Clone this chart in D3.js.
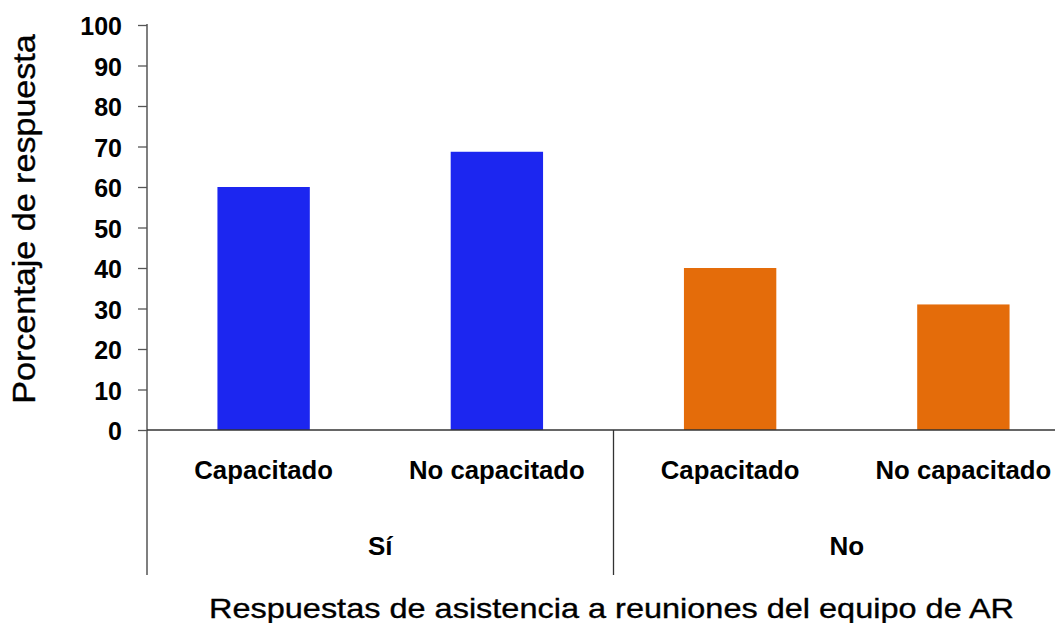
<!DOCTYPE html>
<html>
<head>
<meta charset="utf-8">
<script src="https://cdn.jsdelivr.net/npm/d3@7"></script>
<style>
  html, body { margin: 0; padding: 0; background: #fff; }
  svg { display: block; font-family: "Liberation Sans", Arial, sans-serif; }
</style>
</head>
<body>
<svg id="chart" width="1055" height="623"></svg>
<script>
// Survey responses: attendance at AR team meetings, by training status
const groups = ["Sí", "No"];
const subCategories = ["Capacitado", "No capacitado"];
const percentSi = [60, 68.7];
const percentNo = [40, 31];
const yTicks = [0, 10, 20, 30, 40, 50, 60, 70, 80, 90, 100];
const groupColors = ["#1C26F0", "#E46C0A"];
const yTitle = "Porcentaje de respuesta";
const xTitle = "Respuestas de asistencia a reuniones del equipo de AR";

const rows = [];
groups.forEach((g, gi) => {
  const vals = gi === 0 ? percentSi : percentNo;
  subCategories.forEach((c, ci) => {
    rows.push({ key: g + "|" + c, group: g, gi, cat: c, value: vals[ci] });
  });
});

const svg = d3.select("#chart");
const plotLeft = 147, plotRight = 1080, plotTop = 25, plotBase = 430, labelBottom = 575;

const x = d3.scaleBand().domain(rows.map(d => d.key)).range([plotLeft, plotRight]).padding(0);
const y = d3.scaleLinear().domain([0, 100]).range([plotBase, plotTop]);
const barW = x.bandwidth() * 0.396;

// Text helper with optional horizontal stretch
function label(sel, px, py, str, o) {
  return sel.append("text")
    .attr("transform", `translate(${px},${py}) ${o.rotate ? "rotate(-90) " : ""}scale(${o.sx || 1},1)`)
    .attr("text-anchor", o.anchor || "middle")
    .attr("font-size", o.size)
    .attr("font-weight", o.bold ? "bold" : "normal")
    .attr("fill", "#000")
    .attr("stroke", o.bold ? null : "#000")
    .attr("stroke-width", o.bold ? null : 0.35)
    .text(str);
}

// Bars
svg.append("g").selectAll("rect").data(rows).join("rect")
  .attr("x", d => x(d.key) + x.bandwidth() / 2 - barW / 2)
  .attr("y", d => y(d.value))
  .attr("width", barW)
  .attr("height", d => y(0) - y(d.value))
  .attr("fill", d => groupColors[d.gi]);

// Y axis
const yAxis = d3.axisLeft(y).tickValues(yTicks).tickSize(9).tickFormat("");
const ya = svg.append("g").attr("transform", `translate(${plotLeft},0)`).call(yAxis);
ya.select(".domain").remove();
ya.selectAll(".tick line").attr("stroke", "#555").attr("stroke-width", 1.3);
svg.append("line").attr("x1", plotLeft).attr("x2", plotLeft).attr("y1", plotTop - 1).attr("y2", labelBottom)
  .attr("stroke", "#555").attr("stroke-width", 1.5);

const tickG = svg.append("g");
yTicks.forEach(t => {
  label(tickG, 122, y(t) + 10, String(t), { size: 25, bold: true, anchor: "end", sx: 1.0 });
});

// Baseline and group separator
svg.append("line").attr("x1", plotLeft).attr("x2", 1055).attr("y1", plotBase).attr("y2", plotBase)
  .attr("stroke", "#333").attr("stroke-width", 1.3);
const sepX = x(rows[2].key);
svg.append("line").attr("x1", sepX).attr("x2", sepX).attr("y1", plotBase).attr("y2", labelBottom)
  .attr("stroke", "#333").attr("stroke-width", 1.3);

// Category labels
const catG = svg.append("g");
rows.forEach(d => {
  label(catG, x(d.key) + x.bandwidth() / 2, 479, d.cat, { size: 25, bold: true, sx: 1.03 });
});

// Group labels
groups.forEach((g, gi) => {
  const ks = rows.filter(r => r.gi === gi).map(r => r.key);
  const cx = (x(ks[0]) + x(ks[ks.length - 1]) + x.bandwidth()) / 2;
  label(svg, cx, 555, g, { size: 26, bold: true, sx: 1.0 });
});

// Axis titles
label(svg, 611.5, 617.5, xTitle, { size: 28, sx: 1.16 });
label(svg, 35, 219, yTitle, { size: 31, rotate: true, sx: 1.1 });
</script>
</body>
</html>
